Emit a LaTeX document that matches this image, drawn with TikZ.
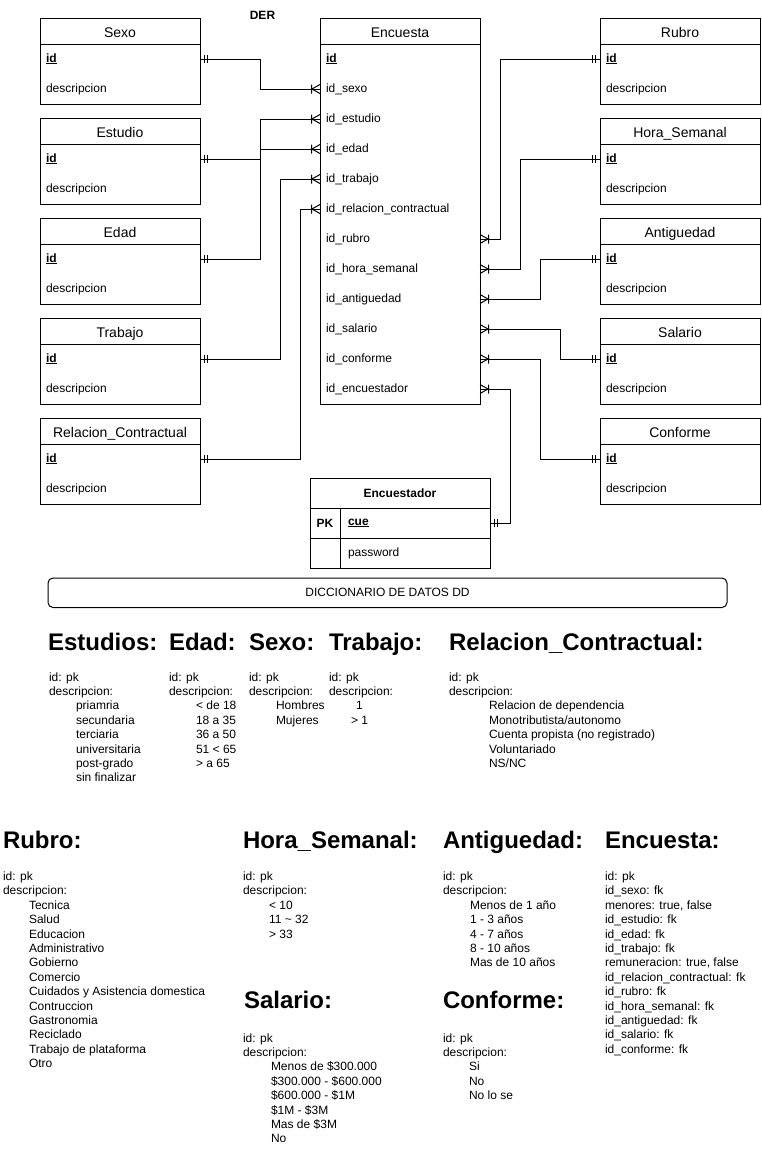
\documentclass[tikz,border=0pt]{standalone}
\usepackage{fontspec}
\setmainfont{Liberation Sans}
\usetikzlibrary{arrows.meta}

\pgfdeclarearrow{
  name=ERmany,
  setup code={
    \pgfarrowssettipend{0pt}
    \pgfarrowssetlineend{0pt}
    \pgfarrowssetbackend{-10pt}
    \pgfarrowshullpoint{0pt}{4.5pt}
    \pgfarrowshullpoint{0pt}{-4.5pt}
    \pgfarrowshullpoint{-10pt}{0pt}
  },
  drawing code={
    \pgfsetdash{}{0pt}
    \pgfpathmoveto{\pgfqpoint{0pt}{4.5pt}}
    \pgfpathlineto{\pgfqpoint{-8pt}{0pt}}
    \pgfpathlineto{\pgfqpoint{0pt}{-4.5pt}}
    \pgfpathmoveto{\pgfqpoint{-8.5pt}{4.5pt}}
    \pgfpathlineto{\pgfqpoint{-8.5pt}{-4.5pt}}
    \pgfusepathqstroke
  }
}
\pgfdeclarearrow{
  name=ERone,
  setup code={
    \pgfarrowssettipend{0pt}
    \pgfarrowssetlineend{0pt}
    \pgfarrowssetbackend{-10pt}
    \pgfarrowshullpoint{0pt}{4pt}
    \pgfarrowshullpoint{-10pt}{-4pt}
  },
  drawing code={
    \pgfsetdash{}{0pt}
    \pgfpathmoveto{\pgfqpoint{-4.5pt}{4pt}}
    \pgfpathlineto{\pgfqpoint{-4.5pt}{-4pt}}
    \pgfpathmoveto{\pgfqpoint{-7.5pt}{4pt}}
    \pgfpathlineto{\pgfqpoint{-7.5pt}{-4pt}}
    \pgfusepathqstroke
  }
}

\tikzset{
  every node/.style={font=\fontsize{12}{14.4}\selectfont, outer sep=0pt},
  tblbox/.style={draw, minimum width=160, minimum height=86, anchor=north west, inner sep=0pt},
  hdr/.style={draw, minimum width=160, minimum height=26, anchor=north west, inner sep=0pt, text height=12.5, text depth=0, font=\fontsize{14}{16.8}\selectfont},
  rowtxt/.style={minimum width=160, minimum height=30, anchor=west, inner xsep=6pt, inner ysep=0pt, text width=148, align=left, text height=9, text depth=3},
  hd/.style={anchor=base west, inner sep=0pt, font=\fontsize{24}{28.8}\selectfont\bfseries},
  tx/.style={anchor=base west, inner sep=0pt},
  rel/.style={draw, line width=1pt, {ERone}-{ERmany}},
}

\newcommand\enttbl[4]{%
  \node[tblbox] (#1) at (#2,#3) {};
  \node[hdr] (#1-h) at (#2,#3) {#4};
  \node[rowtxt] (#1-id) at (#2,#3+41) {\underline{\textbf{id}}};
  \node[rowtxt] (#1-d) at (#2,#3+71) {descripcion};
}

\begin{document}
\begin{tikzpicture}[x=1pt,y=-1pt,line width=1pt]
\useasboundingbox[fill=white] (0,0) rectangle (761,1151);

\node[font=\fontsize{12}{14.4}\selectfont\bfseries] (der) at (262.5,15) {DER};

% left tables
\enttbl{sexo}{40}{18}{Sexo}
\enttbl{est}{40}{118}{Estudio}
\enttbl{edad}{40}{218}{Edad}
\enttbl{trab}{40}{318}{Trabajo}
\enttbl{relc}{40}{418}{Relacion\_Contractual}
% right tables
\enttbl{rubro}{600}{18}{Rubro}
\enttbl{hora}{600}{118}{Hora\_Semanal}
\enttbl{ant}{600}{218}{Antiguedad}
\enttbl{sal}{600}{318}{Salario}
\enttbl{conf}{600}{418}{Conforme}

% Encuesta
\node[draw, minimum width=160, minimum height=386, anchor=north west, inner sep=0pt] (enc) at (320,18) {};
\node[hdr] (enc-h) at (320,18) {Encuesta};
\foreach \n/\t [count=\i from 0] in {id/{\underline{\textbf{id}}}, sexo/id\_sexo, estudio/id\_estudio, edad/id\_edad, trabajo/id\_trabajo, relacion/id\_relacion\_contractual, rubro/id\_rubro, hora/id\_hora\_semanal, antiguedad/id\_antiguedad, salario/id\_salario, conforme/id\_conforme, encuestador/id\_encuestador}
  \node[rowtxt] (enc-\n) at (320,59+30*\i) {\t};

% Encuestador
\node[draw, minimum width=180, minimum height=90, anchor=north west, inner sep=0pt] (encr) at (310,478) {};
\node[draw, minimum width=180, minimum height=30, anchor=north west, inner sep=0pt, font=\fontsize{12}{14.4}\selectfont\bfseries] (encr-h) at (310,478) {Encuestador};
\node[draw, minimum width=30, minimum height=30, anchor=north west, inner sep=0pt] (encr-pk) at (310,508) {\textbf{PK}};
\node[draw, minimum width=30, minimum height=30, anchor=north west, inner sep=0pt] (encr-pk2) at (310,538) {};
\node[draw, minimum width=150, minimum height=30, anchor=north west, inner xsep=8pt, inner ysep=0pt, text width=134, align=left] (encr-cue) at (340,508) {\underline{\textbf{cue}}};
\node[draw, minimum width=150, minimum height=30, anchor=north west, inner xsep=8pt, inner ysep=0pt, text width=134, align=left] (encr-pw) at (340,538) {password};

% relationships
\draw[rel] (sexo-id.east) -- ++(60,0) |- (enc-sexo.west);
\draw[rel] (est-id.east) -- ++(60,0) |- (enc-estudio.west);
\draw[rel] (edad-id.east) -- ++(60,0) |- (enc-edad.west);
\draw[rel] (trab-id.east) -- ++(80,0) |- (enc-trabajo.west);
\draw[rel] (relc-id.east) -- ++(100,0) |- (enc-relacion.west);
\draw[rel] (rubro-id.west) -- ++(-100,0) |- (enc-rubro.east);
\draw[rel] (hora-id.west) -- ++(-80,0) |- (enc-hora.east);
\draw[rel] (ant-id.west) -- ++(-60,0) |- (enc-antiguedad.east);
\draw[rel] (sal-id.west) -- ++(-40,0) |- (enc-salario.east);
\draw[rel] (conf-id.west) -- ++(-60,0) |- (enc-conforme.east);
\draw[rel] (encr-cue.east) -- ++(20,0) |- (enc-encuestador.east);

% dictionary banner
\node[draw, rounded corners=5pt, minimum width=679, minimum height=29.5, anchor=north west, inner sep=0pt] (dd) at (48,578) {DICCIONARIO DE DATOS DD};

% ---- row 1
\node[hd] (h-est) at (48,650) {Estudios:};
\foreach \t [count=\i from 0] in {id: pk, descripcion:} \node[tx] (est-a\i) at (49,681+14.4*\i) {\t};
\foreach \t [count=\i from 2] in {priamria, secundaria, terciaria, universitaria, post-grado, sin finalizar} \node[tx] (est-b\i) at (76,681+14.4*\i) {\t};

\node[hd] (h-edad) at (169,650) {Edad:};
\foreach \t [count=\i from 0] in {id: pk, descripcion:} \node[tx] (edad-a\i) at (169,681+14.4*\i) {\t};
\foreach \t [count=\i from 2] in {< de 18, 18 a 35, 36 a 50, 51 < 65, > a 65} \node[tx] (edad-b\i) at (196,681+14.4*\i) {\t};

\node[hd] (h-sexo) at (249,650) {Sexo:};
\foreach \t [count=\i from 0] in {id: pk, descripcion:} \node[tx] (sexo-a\i) at (249,681+14.4*\i) {\t};
\foreach \t [count=\i from 2] in {Hombres, Mujeres} \node[tx] (sexo-b\i) at (276,681+14.4*\i) {\t};

\node[hd] (h-trab) at (329,650) {Trabajo:};
\foreach \t [count=\i from 0] in {id: pk, descripcion:} \node[tx] (trab-a\i) at (329,681+14.4*\i) {\t};
\node[tx] (trab-b1) at (356,681+28.8) {1};
\node[tx] (trab-b2) at (351,681+43.2) {> 1};

\node[hd] (h-relc) at (449,650) {Relacion\_Contractual:};
\foreach \t [count=\i from 0] in {id: pk, descripcion:} \node[tx] (relc-a\i) at (449,681+14.4*\i) {\t};
\foreach \t [count=\i from 2] in {Relacion de dependencia, Monotributista/autonomo, Cuenta propista (no registrado), Voluntariado, NS/NC} \node[tx] (relc-b\i) at (489,681+14.4*\i) {\t};

% ---- row 2
\node[hd] (h-rubro) at (3,848) {Rubro:};
\foreach \t [count=\i from 0] in {id: pk, descripcion:} \node[tx] (rubro-a\i) at (3,880.5+14.4*\i) {\t};
\foreach \t [count=\i from 2] in {Tecnica, Salud, Educacion, Administrativo, Gobierno, Comercio, Cuidados y Asistencia domestica, Contruccion, Gastronomia, Reciclado, Trabajo de plataforma, Otro} \node[tx] (rubro-b\i) at (29,880.5+14.4*\i) {\t};

\node[hd] (h-hora) at (243,848) {Hora\_Semanal:};
\foreach \t [count=\i from 0] in {id: pk, descripcion:} \node[tx] (hora-a\i) at (243,880.5+14.4*\i) {\t};
\foreach \t [count=\i from 2] in {< 10, 11 \textasciitilde{} 32, > 33} \node[tx] (hora-b\i) at (269,880.5+14.4*\i) {\t};

\node[hd] (h-sal) at (244,1008) {Salario:};
\foreach \t [count=\i from 0] in {id: pk, descripcion:} \node[tx] (sal-a\i) at (243,1042+14.4*\i) {\t};
\foreach \t [count=\i from 2] in {Menos de \$300.000, \$300.000 - \$600.000, \$600.000 - \$1M, \$1M - \$3M, Mas de \$3M, No} \node[tx] (sal-b\i) at (271,1042+14.4*\i) {\t};

\node[hd] (h-ant) at (443,848) {Antiguedad:};
\foreach \t [count=\i from 0] in {id: pk, descripcion:} \node[tx] (ant-a\i) at (443,880.5+14.4*\i) {\t};
\foreach \t [count=\i from 2] in {Menos de 1 año, 1 - 3 años, 4 - 7 años, 8 - 10 años, Mas de 10 años} \node[tx] (ant-b\i) at (470,880.5+14.4*\i) {\t};

\node[hd] (h-conf) at (443,1008) {Conforme:};
\foreach \t [count=\i from 0] in {id: pk, descripcion:} \node[tx] (conf-a\i) at (443,1042+14.4*\i) {\t};
\foreach \t [count=\i from 2] in {Si, No, No lo se} \node[tx] (conf-b\i) at (469,1042+14.4*\i) {\t};

\node[hd] (h-enc) at (605,848) {Encuesta:};
\foreach \t [count=\i from 0] in {id: pk, id\_sexo: fk, {menores: true, false}, id\_estudio: fk, id\_edad: fk, id\_trabajo: fk, {remuneracion: true, false}, id\_relacion\_contractual: fk, id\_rubro: fk, id\_hora\_semanal: fk, id\_antiguedad: fk, id\_salario: fk, id\_conforme: fk} \node[tx] (encd-\i) at (605,880.5+14.4*\i) {\t};

\end{tikzpicture}
\end{document}
